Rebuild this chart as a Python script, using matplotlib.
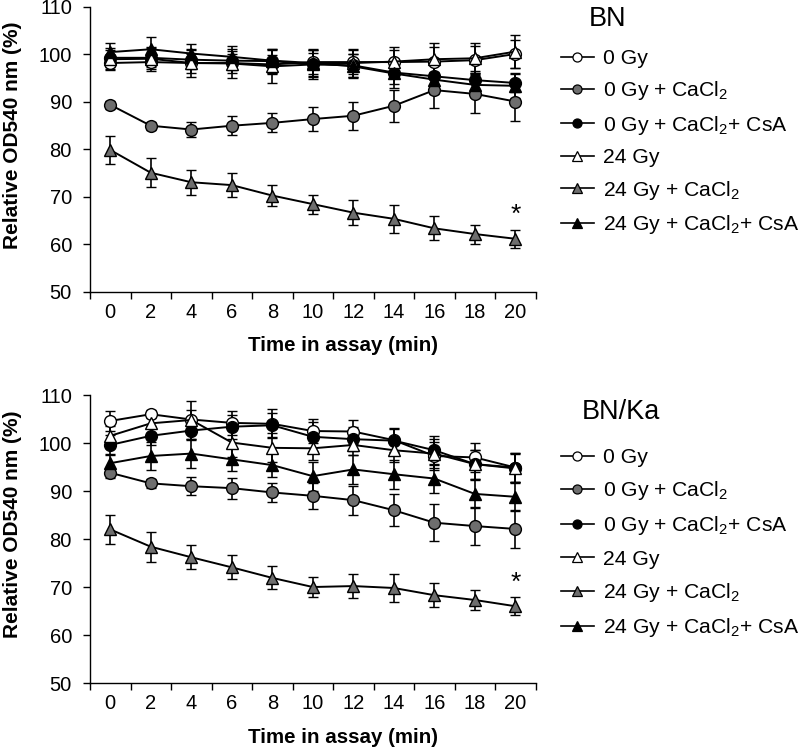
import matplotlib
matplotlib.use("Agg")
import matplotlib.pyplot as plt
from matplotlib.lines import Line2D
import numpy as np

plt.rcParams['font.family'] = ['Liberation Sans', 'DejaVu Sans']
plt.rcParams['mathtext.fontset'] = 'custom'
plt.rcParams['mathtext.rm'] = 'Liberation Sans'
plt.rcParams['mathtext.default'] = 'regular'

time = [0, 2, 4, 6, 8, 10, 12, 14, 16, 18, 20]
labels = ['0 Gy', '0 Gy + CaCl$_2$', '0 Gy + CaCl$_2$+ CsA',
          '24 Gy', '24 Gy + CaCl$_2$', '24 Gy + CaCl$_2$+ CsA']

# BN
bn_0 = [98.2, 98.4, 98.2, 98.2, 97.9, 98.4, 98.4, 98.4, 98.5, 98.8, 100.1]
bn_0_ca = [89.4, 85.0, 84.2, 85.0, 85.6, 86.4, 87.1, 89.2, 92.5, 91.7, 90.1]
bn_0_ca_csa = [99.3, 99.3, 98.9, 98.7, 98.6, 97.9, 97.7, 96.2, 95.4, 94.6, 94.0]
bn_24 = [99.0, 99.1, 98.2, 98.1, 97.5, 97.9, 98.2, 98.5, 99.0, 99.2, 100.6]
bn_24_ca = [79.9, 75.1, 73.1, 72.5, 70.3, 68.5, 66.7, 65.4, 63.4, 62.2, 61.2]
bn_24_ca_csa = [100.5, 101.1, 100.2, 99.5, 98.7, 98.2, 97.5, 96.0, 94.7, 93.6, 93.4]

bn_0_err = [1.5, 1.5, 2.0, 2.0, 2.0, 2.5, 2.5, 2.5, 3.0, 3.0, 3.0]
bn_0_ca_err = [0.8, 0.8, 1.5, 2.0, 2.0, 2.5, 3.0, 3.4, 3.8, 4.0, 4.0]
bn_0_ca_csa_err = [2.0, 2.0, 2.0, 2.0, 2.5, 2.5, 2.5, 2.5, 2.5, 2.0, 2.0]
bn_24_err = [2.0, 2.5, 3.0, 3.0, 3.5, 3.0, 3.0, 3.0, 3.5, 3.2, 3.5]
bn_24_ca_err = [3.0, 3.1, 2.6, 2.5, 2.2, 2.0, 2.6, 3.0, 2.5, 2.0, 1.9]
bn_24_ca_csa_err = [2.0, 2.5, 2.0, 2.2, 2.5, 3.0, 2.5, 3.0, 3.0, 2.5, 2.5]

# BN/Ka
ka_0 = [104.6, 106.0, 104.9, 104.2, 104.0, 102.5, 102.4, 100.6, 97.3, 97.0, 94.9]
ka_0_ca = [93.8, 91.6, 91.0, 90.6, 89.7, 89.0, 88.1, 86.0, 83.4, 82.7, 82.1]
ka_0_ca_csa = [99.6, 101.5, 102.6, 103.4, 103.7, 101.3, 100.8, 100.5, 98.5, 95.6, 94.9]
ka_24 = [101.5, 104.1, 104.8, 100.1, 99.0, 98.9, 99.6, 98.5, 97.8, 95.6, 94.7]
ka_24_ca = [82.0, 78.4, 76.2, 74.1, 71.9, 70.0, 70.2, 69.8, 68.3, 67.3, 66.0]
ka_24_ca_csa = [95.8, 97.3, 97.8, 96.6, 95.4, 93.1, 94.5, 93.5, 92.6, 89.4, 88.8]

ka_0_err = [2.0, 0.8, 2.0, 2.5, 3.0, 2.5, 2.5, 2.5, 3.0, 3.0, 3.0]
ka_0_ca_err = [1.0, 1.0, 1.9, 2.2, 2.0, 2.7, 3.0, 3.3, 3.9, 4.0, 4.0]
ka_0_ca_csa_err = [2.0, 2.0, 2.0, 2.5, 2.5, 3.0, 2.5, 2.5, 3.0, 3.0, 3.0]
ka_24_err = [2.0, 2.0, 4.0, 3.0, 3.0, 2.5, 2.0, 2.5, 3.0, 3.0, 3.0]
ka_24_ca_err = [3.0, 3.1, 2.5, 2.5, 2.4, 2.1, 2.5, 3.0, 2.5, 2.0, 1.9]
ka_24_ca_csa_err = [2.0, 3.0, 3.0, 2.5, 2.5, 3.0, 3.0, 3.0, 3.0, 3.0, 3.0]

gray = '#6e6e6e'
styles = [('o', 'white'), ('o', gray), ('o', 'black'),
          ('^', 'white'), ('^', gray), ('^', 'black')]


def panel(ax, series, errors, title, title_xy, leg_top, spacing, star_y):
    handles = []
    for (m, fc), y, e, lab in zip(styles, series, errors, labels):
        ms = 8.5 if m == 'o' else 9
        ax.errorbar(time, y, yerr=e, color='black', lw=1.4, marker=m,
                    ms=ms, mfc=fc, mec='black', mew=1.0,
                    capsize=3.5, elinewidth=1.2, capthick=1.2)
        handles.append(Line2D([], [], color='black', lw=1.2, marker=m,
                              ms=6.5, mfc=fc, mec='black', mew=0.9,
                              label=lab))
    ax.set_xlim(-1, 21)
    ax.set_ylim(50, 110)
    ax.set_yticks(np.arange(50, 111, 10))
    ax.set_xticks(np.arange(-1, 22, 2))
    ax.set_xticklabels([])
    ax.set_xticks(time, minor=True)
    ax.set_xticklabels([str(t) for t in time], minor=True)
    ax.tick_params(axis='x', which='major', length=5, width=1, direction='out')
    ax.tick_params(axis='x', which='minor', length=0, pad=8, labelsize=14.5)
    ax.tick_params(axis='y', length=5, width=1, direction='out', pad=8,
                   labelsize=14.5)
    for s in ['top', 'right']:
        ax.spines[s].set_visible(False)
    for s in ['left', 'bottom']:
        ax.spines[s].set_linewidth(1.0)
    ax.set_ylabel('Relative OD540 nm (%)', fontsize=15, fontweight='bold')
    ax.yaxis.set_label_coords(-0.153, 0.55)
    ax.set_xlabel('Time in assay (min)', fontsize=14.8, fontweight='bold')
    ax.xaxis.set_label_coords(0.568, -0.155)
    ax.text(20, star_y, '*', ha='center', va='center', fontsize=19)
    fig.text(title_xy[0], title_xy[1], title, fontsize=19.5,
             ha='center', va='center')
    ax.legend(handles=handles, loc='upper left',
              bbox_to_anchor=(0.701, leg_top),
              bbox_transform=fig.transFigure, frameon=False,
              fontsize=15.2, handlelength=1.55, handletextpad=0.45,
              labelspacing=spacing, borderpad=0, borderaxespad=0)


fig = plt.figure(figsize=(8, 7.5), dpi=100)
ax1 = fig.add_axes([0.1125, 0.6107, 0.557, 0.38])
ax2 = fig.add_axes([0.1125, 0.0893, 0.557, 0.384])

panel(ax1, [bn_0, bn_0_ca, bn_0_ca_csa, bn_24, bn_24_ca, bn_24_ca_csa],
      [bn_0_err, bn_0_ca_err, bn_0_ca_csa_err, bn_24_err, bn_24_ca_err,
       bn_24_ca_csa_err], 'BN', (608 / 800, 1 - 19 / 750), 1 - 49 / 750,
      0.54, 66.3)
panel(ax2, [ka_0, ka_0_ca, ka_0_ca_csa, ka_24, ka_24_ca, ka_24_ca_csa],
      [ka_0_err, ka_0_ca_err, ka_0_ca_csa_err, ka_24_err, ka_24_ca_err,
       ka_24_ca_csa_err], 'BN/Ka', (621 / 800, 1 - 412 / 750), 1 - 448 / 750,
      0.58, 70.9)

fig.savefig('out.png', dpi=100)
